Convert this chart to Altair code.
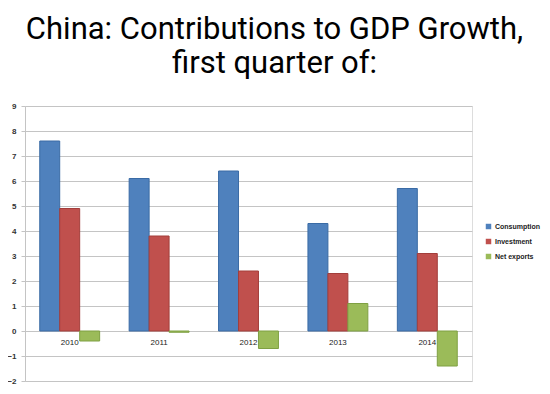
import altair as alt
import pandas as pd

years = ["2010", "2011", "2012", "2013", "2014"]
series = ["Consumption", "Investment", "Net exports"]
consumption = [7.6, 6.1, 6.4, 4.3, 5.7]
investment = [4.9, 3.8, 2.4, 2.3, 3.1]
net_exports = [-0.4, -0.05, -0.7, 1.1, -1.4]
colors = ["#4F81BD", "#C0504D", "#9BBB59"]
strokes = ["#3A6BA5", "#A33E3B", "#7FA043"]

rows = []
for i, y in enumerate(years):
    for s, vals in zip(series, [consumption, investment, net_exports]):
        rows.append({"year": y, "series": s, "value": vals[i]})
df = pd.DataFrame(rows)

font = "Liberation Sans"

bars = alt.Chart(df).mark_bar(strokeWidth=1).encode(
    x=alt.X("year:N", sort=years, title=None,
            scale=alt.Scale(paddingInner=0.33, paddingOuter=0.165),
            axis=alt.Axis(offset=-50, domain=False, ticks=False, labelAngle=0,
                          labelFont=font, labelFontSize=8, labelColor="#222222",
                          labelPadding=7, grid=False)),
    xOffset=alt.XOffset("series:N", sort=series),
    y=alt.Y("value:Q", title=None,
            scale=alt.Scale(domain=[-2, 9], nice=False, zero=False),
            axis=alt.Axis(values=list(range(-2, 10)), format="d", grid=True,
                          gridColor="#c4c4c4", gridWidth=1, domainColor="#c4c4c4",
                          tickColor="#c4c4c4", tickSize=4, labelPadding=5,
                          labelFont=font, labelFontSize=8, labelFontWeight="bold",
                          labelColor="#333333")),
    color=alt.Color("series:N", sort=series,
                    scale=alt.Scale(domain=series, range=colors),
                    legend=alt.Legend(title=None, orient="none", legendX=460, legendY=117,
                                      symbolType="square", symbolSize=30,
                                      symbolStrokeWidth=0, labelFont=font,
                                      labelFontSize=7, labelFontWeight="bold",
                                      labelColor="#222222", rowPadding=7, labelOffset=3)),
    stroke=alt.Stroke("series:N", sort=series,
                      scale=alt.Scale(domain=series, range=strokes), legend=None),
)

chart = bars.properties(
    width=447,
    height=275,
    autosize=alt.AutoSizeParams(type="none"),
    padding={"left": 17, "top": 98, "right": 70, "bottom": 12},
    title=alt.TitleParams(
        ["China: Contributions to GDP Growth,", "first quarter of:"],
        font="Roboto", fontSize=31, fontWeight="normal", color="#000000",
        anchor="middle", lineHeight=34, offset=22, dx=26,
    ),
).configure_view(stroke=None).configure(background="white")

chart.save("out.html", embed_options={"renderer": "svg", "actions": False})
